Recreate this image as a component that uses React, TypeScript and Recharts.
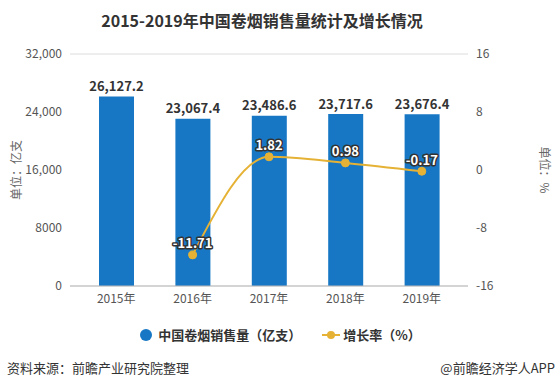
import React from "react";
import {
  ComposedChart,
  Bar,
  Line,
  XAxis,
  YAxis,
  CartesianGrid,
  LabelList,
} from "recharts";

const years = ["2015年", "2016年", "2017年", "2018年", "2019年"];
const sales = [26127.2, 23067.4, 23486.6, 23717.6, 23676.4];
const growth = [null, -11.71, 1.82, 0.98, -0.17];
const leftTicks = [0, 8000, 16000, 24000, 32000];
const rightTicks = [-16, -8, 0, 8, 16];

const BLUE = "#1777C5";
const GOLD = "#E5B235";
const FONT = "'Noto Sans CJK SC', 'Noto Sans', sans-serif";

const data = years.map((y, i) => ({ year: y, sales: sales[i], growth: growth[i] }));

const fmtLeft = (v: number) => (v >= 10000 ? v.toLocaleString("en-US") : String(v));
const fmtSales = (v: number) =>
  v.toLocaleString("en-US", { minimumFractionDigits: 1, maximumFractionDigits: 1 });

function GrowthLabel(props: any) {
  const { x, y, value } = props;
  if (value == null) return null;
  return (
    <text
      x={x}
      y={y - 12}
      textAnchor="middle"
      dominantBaseline="central"
      fontSize={13}
      fontWeight="bold"
      fontFamily={FONT}
      fill="#fff"
      stroke="#333"
      strokeWidth={3}
      strokeLinejoin="round"
      paintOrder="stroke"
    >
      {String(value)}
    </text>
  );
}

function SalesLabel(props: any) {
  const { x, y, width, value } = props;
  return (
    <text
      x={x + width / 2}
      y={y - 11}
      textAnchor="middle"
      dominantBaseline="central"
      fontSize={13}
      fontWeight="bold"
      fontFamily={FONT}
      fill="#333"
    >
      {fmtSales(value)}
    </text>
  );
}

function ChartLegend() {
  return (
    <div
      style={{
        position: "absolute",
        top: 325,
        left: 0,
        width: 558,
        display: "flex",
        justifyContent: "center",
        alignItems: "center",
        fontFamily: FONT,
        fontSize: 13,
        fontWeight: "bold",
        color: "#333",
        paddingLeft: 2,
        boxSizing: "border-box",
      }}
    >
      <span style={{ display: "flex", alignItems: "center", marginRight: 20 }}>
        <svg width={14} height={14} style={{ marginRight: 5 }}>
          <circle cx={7} cy={7} r={6} fill={BLUE} />
        </svg>
        中国卷烟销售量（亿支）
      </span>
      <span style={{ display: "flex", alignItems: "center" }}>
        <svg width={20} height={14} style={{ marginRight: 2 }}>
          <line x1={1} y1={7} x2={19} y2={7} stroke={GOLD} strokeWidth={2} />
          <circle cx={10} cy={7} r={4} fill={GOLD} />
        </svg>
        增长率（%）
      </span>
    </div>
  );
}

export default function App() {
  return (
    <div
      style={{
        position: "absolute",
        left: 0,
        top: 0,
        width: 558,
        height: 387,
        background: "#fff",
        fontFamily: FONT,
        overflow: "hidden",
      }}
    >
      <div
        style={{
          position: "absolute",
          top: 8,
          left: 0,
          width: 524,
          textAlign: "center",
          fontSize: 16,
          fontWeight: "bold",
          color: "#333",
        }}
      >
        2015-2019年中国卷烟销售量统计及增长情况
      </div>
      <div
        style={{
          position: "absolute",
          left: 15,
          top: 170,
          transform: "translate(-50%, -50%) rotate(-90deg)",
          fontSize: 12,
          color: "#666",
          whiteSpace: "nowrap",
        }}
      >
        单位：亿支
      </div>
      <div
        style={{
          position: "absolute",
          left: 545,
          top: 170,
          transform: "translate(-50%, -50%) rotate(90deg)",
          fontSize: 12,
          color: "#666",
          whiteSpace: "nowrap",
        }}
      >
        单位：%
      </div>
      <ComposedChart
        width={558}
        height={387}
        data={data}
        margin={{ top: 54, right: 50, bottom: 71, left: 0 }}
        style={{ position: "absolute", left: 0, top: 0 }}
      >
        <CartesianGrid vertical={false} stroke="#dcdcdc" />
        <XAxis
          dataKey="year"
          padding={{ left: 8, right: 8 }}
          tickLine={false}
          axisLine={{ stroke: "#bbb" }}
          tick={{ fill: "#555", fontSize: 12, fontFamily: FONT }}
          height={30}
        />
        <YAxis
          yAxisId="left"
          domain={[0, 32000]}
          ticks={leftTicks}
          tickFormatter={fmtLeft}
          axisLine={false}
          tickLine={false}
          tick={{ fill: "#555", fontSize: 12, fontFamily: FONT }}
          width={70}
        />
        <YAxis
          yAxisId="right"
          orientation="right"
          domain={[-16, 16]}
          ticks={rightTicks}
          axisLine={false}
          tickLine={false}
          tick={{ fill: "#555", fontSize: 12, fontFamily: FONT }}
          width={40}
        />
        <Bar yAxisId="left" dataKey="sales" fill={BLUE} barSize={35} isAnimationActive={false}>
          <LabelList dataKey="sales" content={SalesLabel} />
        </Bar>
        <Line
          yAxisId="right"
          dataKey="growth"
          type="monotone"
          stroke={GOLD}
          strokeWidth={2}
          dot={{ r: 4, fill: GOLD, stroke: GOLD, strokeWidth: 1 }}
          connectNulls
          isAnimationActive={false}
        >
          <LabelList dataKey="growth" content={GrowthLabel} />
        </Line>
      </ComposedChart>
      <ChartLegend />
      <div
        style={{
          position: "absolute",
          left: 7,
          top: 358,
          fontSize: 13,
          color: "#333",
        }}
      >
        资料来源：前瞻产业研究院整理
      </div>
      <div
        style={{
          position: "absolute",
          right: 3,
          top: 358,
          fontSize: 13,
          color: "#333",
        }}
      >
        @前瞻经济学人APP
      </div>
    </div>
  );
}
